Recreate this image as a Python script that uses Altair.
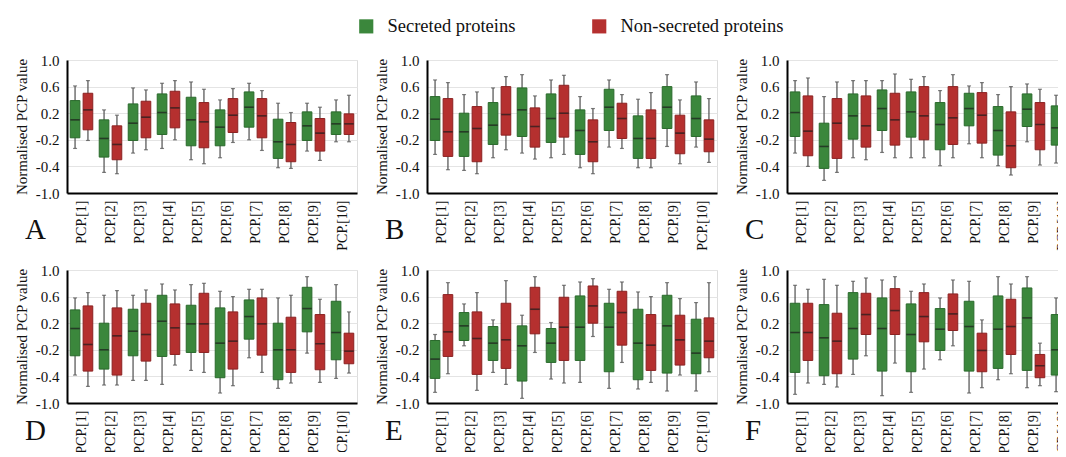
import altair as alt
import pandas as pd

PCP = [f"PCP.[{i}]" for i in range(1, 11)]
GROUPS = ["Secreted proteins", "Non-secreted proteins"]
FILL = ["#3b873c", "#b5302f"]
EDGE = ["#2a6a2c", "#8c2222"]
TICK_VALUES = [-1.0, -0.6, -0.2, 0.2, 0.6, 1.0]
TICK_LABELS = ["-1.0", "-0.4", "-0.2", "0.2", "0.6", "1.0"]
LETTERS = ["A", "B", "C", "D", "E", "F"]

# each entry: (lower whisker, Q1, median, Q3, upper whisker)
A_SEC = [(-0.33, -0.17, 0.10, 0.39, 0.61), (-0.69, -0.46, -0.18, 0.10, 0.25), (-0.40, -0.21, 0.05, 0.34, 0.58),
         (-0.33, -0.12, 0.21, 0.49, 0.65), (-0.50, -0.29, 0.10, 0.44, 0.67), (-0.47, -0.29, -0.01, 0.25, 0.40),
         (-0.20, -0.01, 0.29, 0.52, 0.65), (-0.62, -0.48, -0.23, 0.11, 0.35), (-0.37, -0.21, 0.01, 0.22, 0.35),
         (-0.23, -0.12, 0.04, 0.22, 0.40)]
A_NON = [(-0.21, -0.05, 0.25, 0.50, 0.69), (-0.71, -0.50, -0.27, 0.01, 0.17), (-0.35, -0.17, 0.14, 0.38, 0.55),
         (-0.20, -0.02, 0.28, 0.53, 0.69), (-0.56, -0.32, 0.07, 0.36, 0.56), (-0.24, -0.09, 0.17, 0.42, 0.57),
         (-0.36, -0.17, 0.16, 0.42, 0.54), (-0.63, -0.53, -0.27, 0.06, 0.21), (-0.51, -0.37, -0.10, 0.12, 0.29),
         (-0.23, -0.12, 0.04, 0.19, 0.47)]
B_SEC = [(-0.42, -0.21, 0.11, 0.45, 0.70), (-0.66, -0.45, -0.08, 0.20, 0.48), (-0.47, -0.27, 0.02, 0.36, 0.58),
         (-0.40, -0.15, 0.25, 0.58, 0.78), (-0.47, -0.24, 0.12, 0.49, 0.70), (-0.62, -0.42, -0.06, 0.25, 0.45),
         (-0.31, -0.06, 0.29, 0.56, 0.70), (-0.62, -0.48, -0.18, 0.16, 0.41), (-0.30, -0.03, 0.29, 0.60, 0.78),
         (-0.31, -0.15, 0.12, 0.46, 0.67)]
B_NON = [(-0.65, -0.45, -0.08, 0.42, 0.66), (-0.71, -0.53, -0.03, 0.30, 0.52), (-0.35, -0.13, 0.18, 0.60, 0.75),
         (-0.49, -0.31, 0.00, 0.28, 0.46), (-0.42, -0.16, 0.20, 0.62, 0.77), (-0.71, -0.53, -0.23, 0.10, 0.27),
         (-0.33, -0.18, 0.12, 0.35, 0.48), (-0.62, -0.48, -0.18, 0.25, 0.51), (-0.56, -0.41, -0.10, 0.17, 0.40),
         (-0.54, -0.38, -0.19, 0.10, 0.42)]
C_SEC = [(-0.40, -0.15, 0.21, 0.52, 0.69), (-0.81, -0.63, -0.30, 0.05, 0.45), (-0.47, -0.19, 0.16, 0.49, 0.69),
         (-0.39, -0.06, 0.27, 0.55, 0.69), (-0.47, -0.16, 0.22, 0.52, 0.71), (-0.59, -0.35, 0.03, 0.36, 0.54),
         (-0.26, 0.01, 0.27, 0.50, 0.61), (-0.59, -0.43, -0.06, 0.30, 0.48), (-0.23, 0.00, 0.26, 0.49, 0.64),
         (-0.55, -0.28, -0.02, 0.31, 0.47)]
C_NON = [(-0.60, -0.44, -0.07, 0.46, 0.73), (-0.69, -0.48, 0.05, 0.42, 0.67), (-0.50, -0.31, 0.01, 0.46, 0.69),
         (-0.47, -0.28, 0.10, 0.50, 0.79), (-0.47, -0.20, 0.16, 0.60, 0.75), (-0.47, -0.27, 0.13, 0.60, 0.78),
         (-0.47, -0.25, 0.17, 0.51, 0.66), (-0.73, -0.62, -0.29, 0.22, 0.60), (-0.58, -0.35, 0.03, 0.36, 0.56),
         (-0.40, -0.22, 0.00, 0.22, 0.45)]
D_SEC = [(-0.58, -0.29, 0.12, 0.40, 0.58), (-0.73, -0.49, -0.20, 0.20, 0.62), (-0.66, -0.29, 0.08, 0.41, 0.62),
         (-0.72, -0.30, 0.23, 0.62, 0.79), (-0.51, -0.24, 0.19, 0.47, 0.78), (-0.85, -0.62, -0.10, 0.43, 0.68),
         (-0.32, -0.04, 0.30, 0.55, 0.71), (-0.78, -0.65, -0.20, 0.20, 0.58), (-0.25, 0.07, 0.42, 0.74, 0.90),
         (-0.63, -0.35, 0.06, 0.53, 0.78)]
D_NON = [(-0.75, -0.52, -0.12, 0.46, 0.66), (-0.73, -0.58, 0.01, 0.43, 0.69), (-0.66, -0.37, 0.03, 0.50, 0.70),
         (-0.43, -0.27, 0.13, 0.49, 0.70), (-0.54, -0.24, 0.19, 0.65, 0.80), (-0.74, -0.49, -0.07, 0.37, 0.60),
         (-0.54, -0.28, 0.19, 0.58, 0.71), (-0.70, -0.54, -0.20, 0.29, 0.62), (-0.69, -0.50, -0.11, 0.33, 0.56),
         (-0.55, -0.41, -0.22, 0.05, 0.37)]
E_SEC = [(-0.84, -0.63, -0.34, -0.06, 0.03), (-0.14, -0.06, 0.16, 0.36, 0.49), (-0.54, -0.36, -0.10, 0.15, 0.25),
         (-0.93, -0.67, -0.14, 0.16, 0.32), (-0.64, -0.39, -0.10, 0.12, 0.21), (-0.69, -0.36, 0.14, 0.61, 0.82),
         (-0.78, -0.53, 0.14, 0.50, 0.71), (-0.79, -0.65, -0.10, 0.41, 0.67), (-0.82, -0.55, 0.16, 0.62, 0.81),
         (-0.82, -0.56, -0.25, 0.26, 0.51)]
E_NON = [(-0.56, -0.30, 0.07, 0.63, 0.81), (-0.81, -0.57, -0.03, 0.37, 0.66), (-0.72, -0.48, -0.05, 0.50, 0.84),
         (-0.24, 0.04, 0.41, 0.74, 0.90), (-0.70, -0.36, 0.14, 0.59, 0.77), (0.00, 0.20, 0.46, 0.76, 0.87),
         (-0.39, -0.13, 0.36, 0.68, 0.82), (-0.69, -0.51, -0.13, 0.33, 0.60), (-0.58, -0.43, -0.05, 0.32, 0.57),
         (-0.53, -0.32, -0.07, 0.28, 0.81)]
F_SEC = [(-0.87, -0.54, 0.06, 0.50, 0.77), (-0.72, -0.59, -0.02, 0.48, 0.86), (-0.57, -0.34, 0.12, 0.66, 0.83),
         (-0.89, -0.52, 0.12, 0.58, 0.85), (-0.84, -0.53, 0.03, 0.49, 0.68), (-0.35, -0.21, 0.11, 0.42, 0.58),
         (-0.85, -0.52, 0.15, 0.53, 0.83), (-0.65, -0.48, 0.11, 0.61, 0.90), (-0.77, -0.51, 0.28, 0.73, 0.90),
         (-0.83, -0.58, -0.20, 0.33, 0.58)]
F_NON = [(-0.70, -0.36, 0.06, 0.50, 0.71), (-0.76, -0.56, -0.07, 0.35, 0.77), (-0.29, 0.03, 0.33, 0.65, 0.88),
         (-0.40, 0.03, 0.39, 0.72, 0.90), (-0.49, -0.08, 0.30, 0.66, 0.79), (-0.14, 0.09, 0.34, 0.64, 0.85),
         (-0.77, -0.53, -0.21, 0.05, 0.25), (-0.56, -0.27, 0.15, 0.56, 0.79), (-0.74, -0.62, -0.44, -0.27, -0.10),
         (-0.76, -0.66, -0.51, -0.41, -0.30)]

PANELS = [(A_SEC, A_NON), (B_SEC, B_NON), (C_SEC, C_NON), (D_SEC, D_NON), (E_SEC, E_NON), (F_SEC, F_NON)]

FONT = "Liberation Serif, Times New Roman, serif"
W, H = 290, 133

label_expr = "''"
for v, t in zip(TICK_VALUES, TICK_LABELS):
    label_expr = f"abs(datum.value - ({v})) < 0.001 ? '{t}' : ({label_expr})"


def panel(sec, non, letter, show_legend, letter_dy):
    rows = []
    for g, arr in zip(GROUPS, (sec, non)):
        for cat, (lo, q1, med, q3, hi) in zip(PCP, arr):
            rows.append(dict(pcp=cat, group=g, lo=lo, q1=q1, med=med, q3=q3, hi=hi))
    df = pd.DataFrame(rows)
    yscale = alt.Scale(domain=[-1, 1], nice=False, zero=False)
    base = alt.Chart(df).encode(
        x=alt.X("pcp:N", sort=PCP, title=None,
                scale=alt.Scale(paddingInner=0, paddingOuter=0),
                axis=alt.Axis(labelAngle=-90, labelPadding=7, labelFontSize=14, labelFont=FONT,
                              labelColor="#111", ticks=False, domainColor="#000", domainWidth=2)),
        xOffset=alt.XOffset("group:N", sort=GROUPS,
                            scale=alt.Scale(paddingInner=0.25, paddingOuter=0.25)),
    )
    whisk = base.mark_rule(color="#4d4d4d", strokeWidth=1.2).encode(
        y=alt.Y("lo:Q", scale=yscale,
                axis=alt.Axis(values=TICK_VALUES, tickCount=12, labelExpr=label_expr,
                              title="Normalised PCP value",
                              titleFont=FONT, titleFontSize=15, titleFontWeight="normal", titleColor="#111",
                              titlePadding=6, labelFont=FONT, labelFontSize=15, labelColor="#111",
                              labelPadding=8, labelOverlap=False, labelFlush=False, labelBound=False,
                              ticks=False, domainColor="#000", domainWidth=2,
                              grid=True, gridColor="#e4e4e4", gridWidth=1)),
        y2="hi:Q",
    )
    cap_lo = base.mark_tick(color="#4d4d4d", size=4, thickness=1.2).encode(y="lo:Q")
    cap_hi = base.mark_tick(color="#4d4d4d", size=4, thickness=1.2).encode(y="hi:Q")
    legend = (alt.Legend(title=None, orient="none", legendX=290, legendY=-43, direction="horizontal",
                         symbolType="square", symbolSize=200, symbolStrokeWidth=0, labelFont=FONT,
                         labelFontSize=18.5, labelColor="#111", labelLimit=400, columnPadding=74,
                         labelOffset=12)
              if show_legend else None)
    box = base.mark_bar(strokeWidth=1).encode(
        y="q1:Q", y2="q3:Q",
        color=alt.Color("group:N", sort=GROUPS, scale=alt.Scale(domain=GROUPS, range=FILL), legend=legend),
        stroke=alt.Stroke("group:N", sort=GROUPS, scale=alt.Scale(domain=GROUPS, range=EDGE), legend=None),
    )
    med = base.mark_tick(color="#1c1c1c", size=9.5, thickness=1.6).encode(y="med:Q")
    return alt.layer(whisk, cap_lo, cap_hi, box, med).properties(
        width=W, height=H,
        title=alt.TitleParams(letter, orient="bottom", anchor="start", frame="group", dx=-42, dy=letter_dy,
                              font=FONT, fontSize=29, fontWeight="normal", color="#111"),
    )


charts = [panel(s, n, L, i == 0, -38 if i < 3 else -47)
          for i, ((s, n), L) in enumerate(zip(PANELS, LETTERS))]
chart = alt.concat(*charts, columns=3, spacing={"row": 77, "column": 70}, bounds="flush").properties(
    padding={"left": 5, "top": 9, "right": -20, "bottom": -9}
).configure_view(stroke=None).configure(background="white")

chart.save("out.html", embed_options={"renderer": "svg", "actions": False})
